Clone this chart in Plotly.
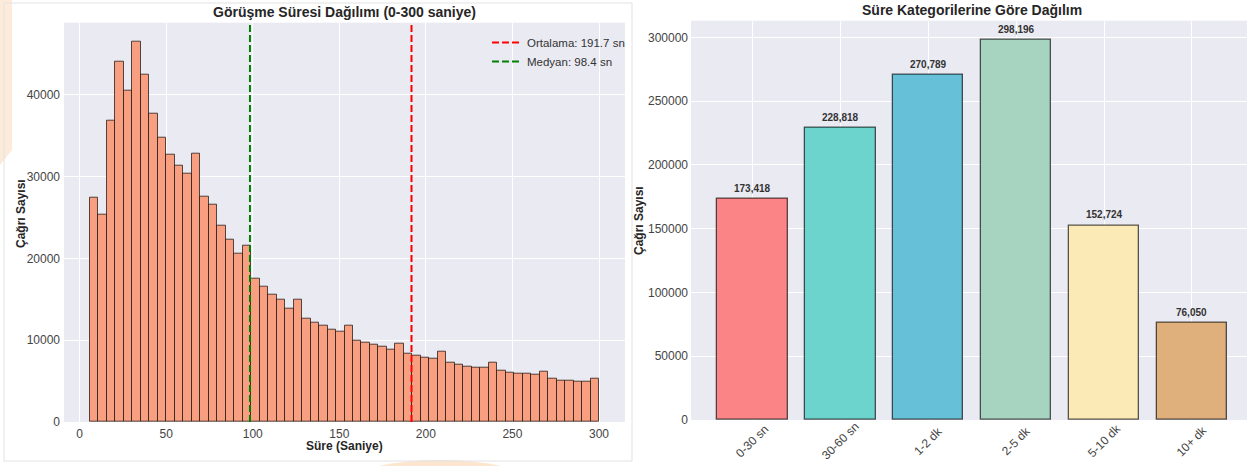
import numpy as np
import plotly.graph_objects as go

# ---------------- data ----------------
hist_counts = [27400, 25300, 36800, 44000, 40500, 46500, 42500, 37700, 34800, 32700,
               31400, 30400, 32800, 27600, 26600, 24000, 22300, 20600, 21500, 17500,
               16500, 15600, 14900, 13900, 15000, 12600, 12200, 11750, 11300, 11000,
               11750, 10000, 9700, 9400, 9200, 8900, 9600, 8300, 8100, 7900,
               7700, 8600, 7300, 7000, 6800, 6700, 6600, 7300, 6300, 6000,
               5900, 5900, 5750, 6100, 5350, 5050, 5050, 4900, 4900, 5350]
hist_min = 6
hist_max = 300
mean_val = 191.7
median_val = 98.4

categories = ["0-30 sn", "30-60 sn", "1-2 dk", "2-5 dk", "5-10 dk", "10+ dk"]
cat_values = [173418, 228818, 270789, 298196, 152724, 76050]
cat_colors = ["#FF6B6B", "#4ECDC4", "#45B7D1", "#96CEB4", "#FFEAA7", "#DDA15E"]

left_ticks = [0, 50, 100, 150, 200, 250, 300]

# ---------------- helpers ----------------
W, H = 1247, 466          # reference frame
H_FIG = 473               # rendered height (capture is rescaled to 466)
BG = "#EAEAF2"
FONT = "Liberation Sans"
TXT = "#262626"
TICK = "#444444"


def blend(hex_color, alpha):
    h = hex_color.lstrip("#")
    c = [int(h[i:i + 2], 16) for i in (0, 2, 4)]
    b = [234, 234, 242]
    r = [round(alpha * c[i] + (1 - alpha) * b[i]) for i in range(3)]
    return "rgb(%d,%d,%d)" % tuple(r)


def px(x):
    return x / W


def py(y):
    return 1 - y / H


n_bins = len(hist_counts)
edges = np.linspace(hist_min, hist_max, n_bins + 1)
centers = (edges[:-1] + edges[1:]) / 2
bw = edges[1] - edges[0]
ytop_left = max(hist_counts) * 1.05
ytop_right = max(cat_values) * 1.05

fig = go.Figure()

# histogram
fig.add_trace(go.Bar(
    x=centers, y=hist_counts, width=bw,
    marker=dict(color=blend("#FF7F50", 0.7), line=dict(color="rgba(30,20,15,0.75)", width=1)),
    showlegend=False, xaxis="x", yaxis="y", hoverinfo="skip"))

# mean / median lines
fig.add_trace(go.Scatter(
    x=[mean_val, mean_val], y=[0, ytop_left], mode="lines",
    line=dict(color="#FF0000", width=2, dash="7px,3px"),
    name="Ortalama: %.1f sn" % mean_val, xaxis="x", yaxis="y"))
fig.add_trace(go.Scatter(
    x=[median_val, median_val], y=[0, ytop_left], mode="lines",
    line=dict(color="#008000", width=2, dash="7px,3px"),
    name="Medyan: %.1f sn" % median_val, xaxis="x", yaxis="y"))

# category bars
fig.add_trace(go.Bar(
    x=list(range(len(categories))), y=cat_values, width=0.8,
    marker=dict(color=[blend(c, 0.8) for c in cat_colors],
                line=dict(color="rgba(0,0,0,0.65)", width=1.3)),
    showlegend=False, xaxis="x2", yaxis="y2", hoverinfo="skip"))

annotations = []
# value labels
for i, v in enumerate(cat_values):
    annotations.append(dict(
        x=i, y=v, xref="x2", yref="y2", text="<b>{:,}</b>".format(v),
        showarrow=False, yanchor="bottom", yshift=3,
        font=dict(family=FONT, size=10, color="#333333")))
# rotated category labels
for i, c in enumerate(categories):
    annotations.append(dict(
        x=i, y=py(441), xref="x2", yref="paper", text=c, textangle=-45,
        showarrow=False, xanchor="center", yanchor="middle",
        font=dict(family=FONT, size=12, color=TICK)))
# titles
annotations += [
    dict(x=px(344.5), y=py(12), xref="paper", yref="paper",
         text="<b>Görüşme Süresi Dağılımı (0-300 saniye)</b>", showarrow=False,
         xanchor="center", yanchor="middle", font=dict(family=FONT, size=14, color=TXT)),
    dict(x=px(971.5), y=py(10), xref="paper", yref="paper",
         text="<b>Süre Kategorilerine Göre Dağılım</b>", showarrow=False,
         xanchor="center", yanchor="middle", font=dict(family=FONT, size=14, color=TXT)),
    dict(x=px(344.5), y=py(446), xref="paper", yref="paper",
         text="<b>Süre (Saniye)</b>", showarrow=False,
         xanchor="center", yanchor="middle", font=dict(family=FONT, size=12, color=TXT)),
    dict(x=px(21), y=py(214), xref="paper", yref="paper", textangle=-90,
         text="<b>Çağrı Sayısı</b>", showarrow=False,
         xanchor="center", yanchor="middle", font=dict(family=FONT, size=12, color=TXT)),
    dict(x=px(639), y=py(221), xref="paper", yref="paper", textangle=-90,
         text="<b>Çağrı Sayısı</b>", showarrow=False,
         xanchor="center", yanchor="middle", font=dict(family=FONT, size=12, color=TXT)),
]


def ppath(points):
    return "M " + " L ".join("%.5f,%.5f" % (px(x), py(y)) for x, y in points) + " Z"


shapes = [
    # faint background watermark remnants of the screenshot
    dict(type="path", xref="paper", yref="paper",
         path=ppath([(0, 0), (12, 0), (12, 150), (0, 165)]),
         fillcolor="#FDEBDA", line=dict(width=0), layer="below"),
    dict(type="circle", xref="paper", yref="paper",
         x0=px(280), x1=px(600), y0=py(466 + 150), y1=py(460),
         fillcolor="#FDE6D0", line=dict(width=0), layer="below"),
    # frame of the left image
    dict(type="rect", xref="paper", yref="paper", x0=px(4), x1=px(632), y0=py(461), y1=py(3),
         line=dict(color="#E2E2E2", width=1), fillcolor="rgba(0,0,0,0)", layer="below"),
]

axis_common = dict(showgrid=True, gridcolor="white", gridwidth=1, zeroline=False,
                   showline=False, ticks="", tickfont=dict(family=FONT, size=12, color=TICK))

fig.update_layout(
    width=W, height=H_FIG, autosize=False,
    margin=dict(l=0, r=0, t=0, b=0),
    paper_bgcolor="white", plot_bgcolor=BG,
    font=dict(family=FONT, size=12, color=TXT),
    bargap=0,
    xaxis=dict(domain=[px(64), px(625)], range=[-9, 315], tickvals=left_ticks,
               anchor="y", ticklabelstandoff=3, **axis_common),
    yaxis=dict(domain=[py(422), py(22.7)], range=[0, ytop_left], dtick=10000, tickformat="d",
               anchor="x", ticklabelstandoff=3, **axis_common),
    xaxis2=dict(domain=[px(691), 1.0], range=[-0.699, 5.626], tickvals=list(range(len(categories))),
                showticklabels=False, anchor="y2", **axis_common),
    yaxis2=dict(domain=[py(420), py(20.7)], range=[0, ytop_right], dtick=50000, tickformat="d",
                anchor="x2", ticklabelstandoff=2, **axis_common),
    legend=dict(x=px(487), y=py(28), xanchor="left", yanchor="top",
                bgcolor="rgba(0,0,0,0)", borderwidth=0,
                font=dict(family=FONT, size=11.5, color="#333333"),
                itemwidth=30, tracegroupgap=0),
    annotations=annotations,
    shapes=shapes,
)

fig.write_html("out.html",
               config={"responsive": False, "displayModeBar": False},
               post_script="document.body.style.margin='0';document.body.style.padding='0';"
                           "document.body.style.overflow='hidden';")
